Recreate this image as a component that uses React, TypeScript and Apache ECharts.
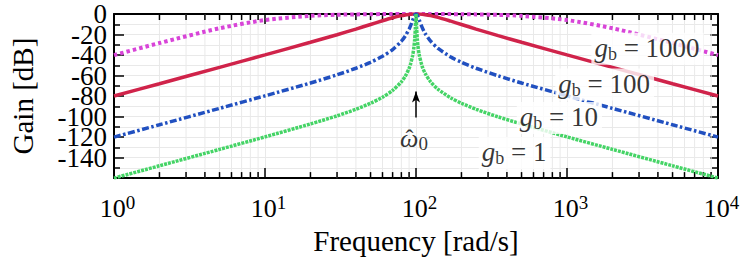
import React, { useEffect, useRef } from 'react';
import * as echarts from 'echarts';

// Frequencies (rad/s) at which the curves were read
const FREQ = [1, 2, 5, 10, 20, 30, 40, 50, 60, 70, 80, 85, 90, 92, 95, 97, 98, 99, 100, 101, 102, 103, 105, 110, 115, 125, 140, 170, 200, 250, 350, 500, 1000, 2000, 5000, 10000];

// Gain [dB] for each g_b
const GAIN_GB1 = [-160, -148.0, -132.0, -119.8, -107.2, -99.3, -92.9, -87.0, -81.1, -74.5, -66.1, -60.6, -53.0, -48.9, -40.5, -31.8, -24.8, -14.0, 0, -13.9, -24.4, -31.1, -39.7, -51.3, -57.9, -66.1, -73.4, -81.8, -87.0, -92.9, -100.3, -107.2, -119.8, -132.0, -148.0, -160.0];
const GAIN_GB10 = [-120.0, -108.0, -92.0, -79.8, -67.3, -59.3, -52.9, -47.1, -41.2, -34.7, -26.5, -21.3, -14.7, -11.6, -6.2, -2.7, -1.3, -0.3, 0, -0.3, -1.3, -2.6, -5.8, -13.3, -19.0, -26.5, -33.6, -41.9, -47.1, -52.9, -60.3, -67.3, -79.8, -92.0, -108.0, -120.0];
const GAIN_GB100 = [-80.0, -68.0, -52.0, -39.9, -27.6, -20.2, -14.7, -10.2, -6.6, -3.7, -1.6, -0.9, -0.4, -0.24, -0.09, -0.03, -0.01, 0, 0, 0, -0.01, -0.03, -0.08, -0.31, -0.66, -1.6, -3.3, -7.0, -10.2, -14.7, -21.1, -27.6, -39.9, -52.0, -68.0, -80.0];
const GAIN_GB1000 = [-40.1, -28.3, -13.9, -5.9, -1.8, -0.76, -0.4, -0.19, -0.1, -0.05, -0.02, 0, 0, 0, 0, 0, 0, 0, 0, 0, 0, 0, 0, 0, 0, -0.02, -0.04, -0.1, -0.19, -0.4, -0.85, -1.8, -5.9, -13.9, -28.3, -40.1];

// Axis ticks
const X_MINOR_TICKS = [2, 3, 4, 5, 6, 7, 8, 9, 20, 30, 40, 50, 60, 70, 80, 90, 200, 300, 400, 500, 600, 700, 800, 900, 2000, 3000, 4000, 5000, 6000, 7000, 8000, 9000];
const Y_MIN = -160;
const Y_MAX = 0;
const Y_STEP = 20;

// Annotation texts
const GB_VALUES = ['1000', '100', '10', '1'];
const GB_LABEL_AT: [number, number][] = [[3412, -34.0], [1777, -68.8], [891, -101.5], [450, -135.5]];
const OMEGA_LABEL_AT: [number, number] = [97.8, -122.0];
const HAT_AT: [number, number] = [91.2, -122.0];
const ARROW_FROM: [number, number] = [100, -101.0];
const ARROW_TO: [number, number] = [100, -75.5];

const FONT = "'Liberation Serif', 'DejaVu Serif', 'Times New Roman', serif";
const GRID_COLOR = '#e9e9e9';

export default function App() {
  const ref = useRef<HTMLDivElement>(null);

  useEffect(() => {
    if (!ref.current) return;
    const chart = echarts.init(ref.current, undefined, { renderer: 'svg' });

    const lineSeries = (name: string, vals: number[], color: string, type: any, width: number) => ({
      type: 'line',
      name,
      data: FREQ.map((f, i) => [f, vals[i]]),
      showSymbol: false,
      symbol: 'none',
      smooth: 0.25,
      lineStyle: { color, width, type, cap: 'butt' },
      z: 3,
    });

    const frameLine = { show: true, onZero: false, lineStyle: { color: '#000', width: 2 } };
    const tickStyle = { color: '#000', width: 1.5 };
    const yLabelBase = { margin: 7, fontFamily: FONT, fontSize: 27, color: '#000', lineHeight: 20 };

    const option: any = {
      animation: false,
      grid: { left: 97, right: 29, top: 14, bottom: 68, containLabel: false },
      xAxis: [
        {
          type: 'log', logBase: 10, min: 1, max: 10000, position: 'bottom',
          axisLine: frameLine,
          axisTick: { show: true, inside: true, length: 10, lineStyle: tickStyle },
          splitLine: { show: true, lineStyle: { color: GRID_COLOR, width: 1 } },
          axisLabel: {
            margin: 15,
            padding: [0, 0, 0, 7],
            formatter: (v: number) => `{b|10}{e|${Math.round(Math.log10(v))}}`,
            rich: {
              b: { fontFamily: FONT, fontSize: 26, color: '#000', lineHeight: 30 },
              e: { fontFamily: FONT, fontSize: 19, color: '#000', lineHeight: 21, verticalAlign: 'top' },
            },
          },
          name: 'Frequency [rad/s]', nameLocation: 'middle', nameGap: 33,
          nameTextStyle: { fontFamily: FONT, fontSize: 29, color: '#000' },
        },
        {
          type: 'log', logBase: 10, min: 1, max: 10000, position: 'top',
          axisLine: frameLine,
          axisTick: { show: true, inside: true, length: 10, lineStyle: tickStyle },
          splitLine: { show: false },
          axisLabel: { show: false },
        },
      ],
      yAxis: [
        {
          type: 'value', min: Y_MIN, max: Y_MAX, interval: Y_STEP, position: 'left',
          axisLine: frameLine,
          axisTick: { show: true, inside: true, length: 10, lineStyle: tickStyle },
          minorTick: { show: true, splitNumber: 2, length: 6, lineStyle: tickStyle },
          splitLine: { show: true, lineStyle: { color: GRID_COLOR, width: 1 } },
          minorSplitLine: { show: true, lineStyle: { color: GRID_COLOR, width: 1 } },
          axisLabel: {
            ...yLabelBase,
            showMaxLabel: false, showMinLabel: false,
            formatter: (v: number) => (v === Y_MIN || v === Y_MAX ? '' : String(v)),
          },
          name: 'Gain [dB]', nameLocation: 'middle', nameRotate: 90, nameGap: 77,
          nameTextStyle: { fontFamily: FONT, fontSize: 29, color: '#000' },
        },
        {
          type: 'value', min: Y_MIN, max: Y_MAX, interval: Y_STEP, position: 'right',
          axisLine: frameLine,
          axisTick: { show: true, inside: true, length: 8, lineStyle: tickStyle },
          minorTick: { show: true, splitNumber: 2, length: 6, lineStyle: tickStyle },
          splitLine: { show: false },
          axisLabel: { show: false },
        },
        {
          // carries only the top "0" label of the left axis
          type: 'value', min: Y_MIN, max: Y_MAX, interval: Y_STEP, position: 'left',
          axisLine: { show: false }, axisTick: { show: false }, splitLine: { show: false },
          axisLabel: {
            ...yLabelBase,
            showMaxLabel: true, showMinLabel: false,
            formatter: (v: number) => (v === Y_MAX ? String(v) : ''),
          },
        },
      ],
      series: [
        {
          type: 'custom', xAxisIndex: 0, yAxisIndex: 0, silent: true, clip: false, z: 1,
          data: X_MINOR_TICKS.map((f) => [f, Y_MIN]),
          renderItem: (_p: any, api: any) => {
            const f = api.value(0);
            const b = api.coord([f, Y_MIN]);
            const t = api.coord([f, Y_MAX]);
            return {
              type: 'group',
              children: [
                { type: 'line', shape: { x1: b[0], y1: b[1], x2: t[0], y2: t[1] }, style: { stroke: GRID_COLOR, lineWidth: 1 } },
                { type: 'line', shape: { x1: b[0], y1: b[1], x2: b[0], y2: b[1] - 6 }, style: { stroke: '#000', lineWidth: 1.5 } },
                { type: 'line', shape: { x1: t[0], y1: t[1], x2: t[0], y2: t[1] + 6 }, style: { stroke: '#000', lineWidth: 1.5 } },
              ],
            };
          },
        },
        lineSeries('g_b = 1000', GAIN_GB1000, '#d844d8', [3.5, 3], 4),
        lineSeries('g_b = 100', GAIN_GB100, '#d0234a', 'solid', 3.5),
        lineSeries('g_b = 10', GAIN_GB10, '#2150c0', [7, 2.5, 2.5, 2.5], 3.5),
        lineSeries('g_b = 1', GAIN_GB1, '#45d466', [3, 1], 3.5),
        {
          type: 'scatter', z: 10, silent: true, symbolSize: 1,
          itemStyle: { color: 'rgba(0,0,0,0)' },
          label: {
            show: true, position: 'inside', backgroundColor: '#fff', padding: [0, 4, 2, 3],
            rich: {
              g: { fontFamily: FONT, fontSize: 27, fontStyle: 'italic', color: '#000', lineHeight: 30 },
              s: { fontFamily: FONT, fontSize: 18, color: '#000', lineHeight: 18, verticalAlign: 'bottom' },
              n: { fontFamily: FONT, fontSize: 27, color: '#000', lineHeight: 30 },
              w: { fontFamily: FONT, fontSize: 26, fontStyle: 'italic', color: '#000', lineHeight: 30 },
              z: { fontFamily: FONT, fontSize: 19, color: '#000', lineHeight: 15, verticalAlign: 'bottom' },
              h: { fontFamily: FONT, fontSize: 24, color: '#000', lineHeight: 30 },
            },
          },
          data: [
            ...GB_VALUES.map((g, i) => ({
              value: GB_LABEL_AT[i],
              label: { formatter: `{g|g}{s|b}{n| = ${g}}` },
            })),
            {
              value: OMEGA_LABEL_AT,
              label: { formatter: '{w|\u03C9}{z|0}', backgroundColor: 'transparent' },
            },
            {
              value: HAT_AT,
              label: { formatter: '{h|\u02C6}', backgroundColor: 'transparent' },
            },
          ],
          markLine: {
            silent: true,
            symbol: ['none', 'arrow'],
            symbolSize: [6, 11],
            label: { show: false },
            lineStyle: { color: '#000', width: 1.5, type: 'solid' },
            data: [[{ coord: ARROW_FROM }, { coord: ARROW_TO }]],
          },
        },
      ],
    };

    chart.setOption(option);
    return () => chart.dispose();
  }, []);

  return <div ref={ref} style={{ position: 'absolute', left: 0, top: 0, width: 747, height: 260 }} />;
}
